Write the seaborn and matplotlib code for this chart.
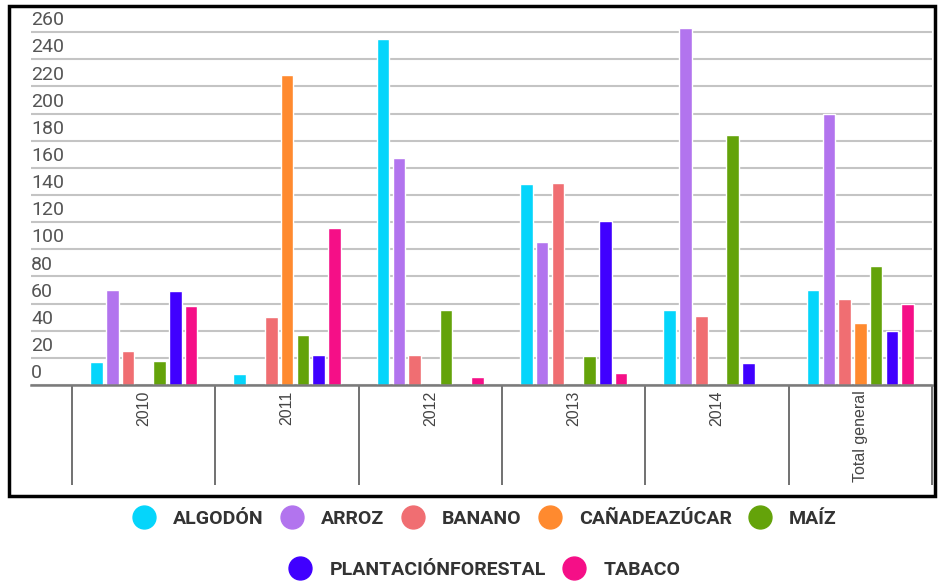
import numpy as np
import pandas as pd
import seaborn as sns
import matplotlib.pyplot as plt
from matplotlib.lines import Line2D
from matplotlib.patches import Rectangle
from matplotlib.transforms import ScaledTranslation

# Data
years = ['2010', '2011', '2012', '2013', '2014', 'Total general']
crops = ['ALGODÓN', 'ARROZ', 'BANANO', 'CAÑADEAZÚCAR', 'MAÍZ',
         'PLANTACIÓNFORESTAL', 'TABACO']

algodon = [17, 8, 255, 148, 55, 70]
arroz = [70, None, 167, 105, 263, 200]
banano = [25, 50, 22, 149, 51, 63]
cana = [None, 228, None, None, None, 46]
maiz = [18, 37, 55, 21, 184, 88]
plantacion = [69, 22, None, 121, 16, 40]
tabaco = [58, 116, 6, 9, None, 60]

colors = ['#05D5FB', '#B274EE', '#F06E72', '#FF8A2F', '#64A30A', '#4000FF', '#F50F87']
yticks = list(range(0, 261, 20))

series = [algodon, arroz, banano, cana, maiz, plantacion, tabaco]
rows = [(y, c, v) for c, vals in zip(crops, series)
        for y, v in zip(years, vals) if v is not None]
df = pd.DataFrame(rows, columns=['year', 'crop', 'value'])

sns.set_style('white')
plt.rcParams['font.family'] = ['Roboto', 'DejaVu Sans']

fig = plt.figure(figsize=(9.5, 5.84), dpi=100)
ax = fig.add_axes([31 / 950, 1 - 385 / 584, (932 - 31) / 950, 360 / 584])

sns.barplot(data=df, x='year', y='value', hue='crop', order=years,
            hue_order=crops, palette=colors, saturation=1, width=0.77,
            gap=0.2, errorbar=None, legend=False, ax=ax)

ax.set_xlim(-0.787, 5.5)
ax.set_ylim(0, 265.2)
ax.set_xlabel('')
ax.set_ylabel('')

# grid and spines
ax.set_axisbelow(True)
ax.yaxis.grid(True, color='#c4c4c4', lw=1.5)
ax.xaxis.grid(False)
for s in ['top', 'left', 'right']:
    ax.spines[s].set_visible(False)
ax.spines['bottom'].set_color('#7a7a7a')
ax.spines['bottom'].set_linewidth(1.8)

# y tick labels sit on top of their grid line, inside the plot
ax.set_yticks(yticks)
ax.tick_params(axis='y', length=0, pad=0, labelsize=14, labelcolor='#555555')
for lbl in ax.get_yticklabels():
    lbl.set_ha('left')
    lbl.set_va('bottom')
    lbl.set_transform(lbl.get_transform() + ScaledTranslation(0, 2 / 72, fig.dpi_scale_trans))

# x axis: rotated labels with long divider ticks between categories
ax.set_xticks(range(len(years)))
ax.set_xticklabels(years, rotation=90, fontsize=11.5, color='#444444',
                   family=['Liberation Sans', 'DejaVu Sans'])
ax.tick_params(axis='x', which='major', length=0, pad=4)
ax.set_xticks(np.arange(-0.5, len(years), 1), minor=True)
ax.tick_params(axis='x', which='minor', length=72, width=1.3, color='#666666',
               direction='out', bottom=True)

# outer box
fig.add_artist(Rectangle((9 / 950, 1 - 496 / 584), 926 / 950, 490 / 584,
                         transform=fig.transFigure, fill=False,
                         ec='black', lw=2.5))

# legend, two centred rows
handles = [Line2D([], [], ls='', marker='o', markersize=16.5,
                  markerfacecolor=c, markeredgecolor=c) for c in colors]
lprops = dict(family=['Roboto', 'DejaVu Sans'], weight='bold', size=14)
leg_kw = dict(loc='center', frameon=False, handlelength=1.3,
              handletextpad=0.85, columnspacing=0.8, prop=lprops)
leg1 = fig.legend(handles[:5], crops[:5], ncol=5,
                  bbox_to_anchor=(484 / 950, 1 - 519 / 584), **leg_kw)
leg2 = fig.legend(handles[5:], crops[5:], ncol=2,
                  bbox_to_anchor=(484 / 950, 1 - 570 / 584), **leg_kw)
for leg in (leg1, leg2):
    for t in leg.get_texts():
        t.set_color('#333333')

fig.savefig('out.png', dpi=100)
